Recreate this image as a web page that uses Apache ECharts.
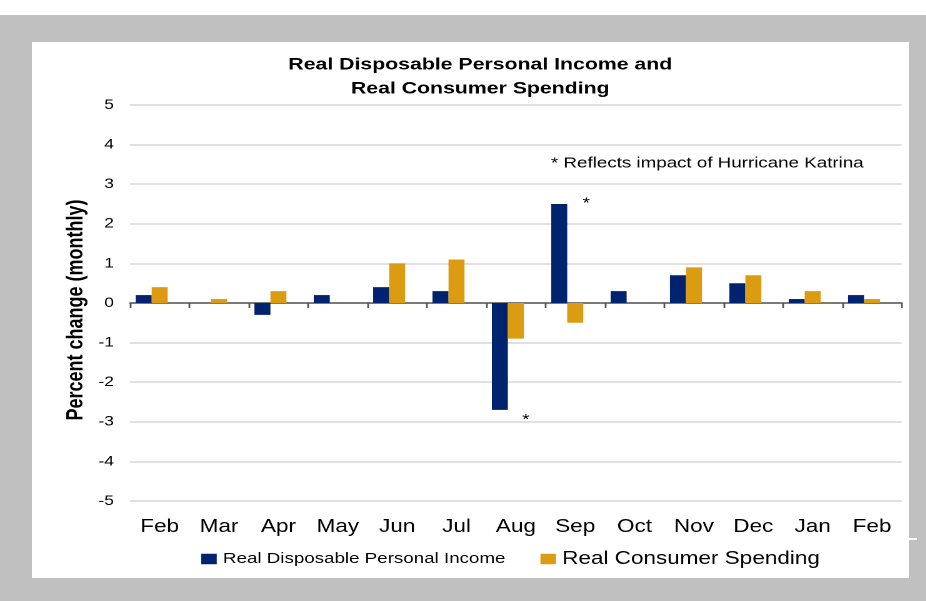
<!DOCTYPE html>
<html>
<head>
<meta charset="utf-8">
<script src="https://cdn.jsdelivr.net/npm/echarts@6/dist/echarts.min.js"></script>
<style>
  html, body { margin: 0; padding: 0; background: #ffffff; overflow: hidden; }
  #bg { position: absolute; left: 0; top: 15px; width: 926px; height: 586px; background: #c0c0c0; }
  #panel { position: absolute; left: 32px; top: 42px; width: 877px; height: 536px; background: #ffffff; }
  #stub { position: absolute; left: 909px; top: 538px; width: 8px; height: 2px; background: #ffffff; }
  #chart { position: absolute; left: 0; top: 0; height: 601px; transform-origin: 0 0; }
</style>
</head>
<body>
<div id="bg"></div>
<div id="panel"></div>
<div id="stub"></div>
<div id="chart"></div>
<script>
const categories = ["Feb", "Mar", "Apr", "May", "Jun", "Jul", "Aug", "Sep", "Oct", "Nov", "Dec", "Jan", "Feb"];
const incomeValues = [0.2, 0, -0.3, 0.2, 0.4, 0.3, -2.7, 2.5, 0.3, 0.7, 0.5, 0.1, 0.2];
const spendingValues = [0.4, 0.1, 0.3, 0, 1.0, 1.1, -0.9, -0.5, 0, 0.9, 0.7, 0.3, 0.1];
const yTicks = [-5, -4, -3, -2, -1, 0, 1, 2, 3, 4, 5];
const seriesNames = ["Real Disposable Personal Income", "Real Consumer Spending"];
const titleText = "Real Disposable Personal Income and\nReal Consumer Spending";
const noteText = "* Reflects impact of Hurricane Katrina";
const yAxisName = "Percent change (monthly)";
const starredIncome = { "6": "bottom", "7": "top" };

// The reference is rendered horizontally stretched; draw narrower and stretch.
const S = 1.25;
const el = document.getElementById("chart");
el.style.width = (926 / S) + "px";
el.style.transform = "scaleX(" + S + ")";

const FONT = "Liberation Sans, Arial, sans-serif";
const X = v => v / S;

const incomeData = incomeValues.map((v, i) => {
  const pos = starredIncome[String(i)];
  if (!pos) return v;
  return {
    value: v,
    label: {
      show: true,
      formatter: "*",
      position: pos,
      offset: pos === "top" ? [X(27), 12] : [X(26), -2.5],
      fontSize: 15,
      color: "#000",
      fontFamily: FONT
    }
  };
});

const chart = echarts.init(el, null, { renderer: "canvas", devicePixelRatio: 2 });
chart.setOption({
  backgroundColor: "transparent",
  animation: false,
  title: {
    text: titleText,
    left: X(474),
    textAlign: "center",
    top: 48,
    textStyle: { fontFamily: FONT, fontSize: 17, fontWeight: "bold", color: "#000", lineHeight: 24 }
  },
  graphic: [
    {
      type: "text",
      left: X(551),
      top: 156,
      style: { text: noteText, font: "15px " + FONT, fill: "#000" }
    },
    {
      type: "text",
      x: X(76.5),
      y: 310,
      rotation: Math.PI / 2,
      style: {
        text: yAxisName,
        font: "bold 18px " + FONT,
        fill: "#000",
        align: "center",
        verticalAlign: "middle"
      }
    }
  ],
  legend: {
    bottom: 28,
    left: X(195),
    itemWidth: X(15.5),
    itemHeight: 10.5,
    itemGap: X(35),
    icon: "rect",
    data: [
      { name: seriesNames[0], textStyle: { fontSize: 15, fontFamily: FONT, color: "#000" } },
      { name: seriesNames[1], textStyle: { fontSize: 18, fontFamily: FONT, color: "#000" } }
    ]
  },
  grid: { left: X(130), right: X(926 - 901.5), top: 105, bottom: 100, containLabel: false },
  xAxis: [
    {
      type: "category",
      data: categories,
      axisLine: { onZero: true, lineStyle: { color: "#555", width: 1.6 } },
      axisTick: { show: true, inside: false, length: 5, lineStyle: { color: "#555", width: 1.4 } },
      axisLabel: { show: false }
    },
    {
      type: "category",
      data: categories,
      position: "bottom",
      axisLine: { show: false },
      axisTick: { show: false },
      axisLabel: { show: true, margin: 17, fontSize: 18, fontFamily: FONT, color: "#000" }
    }
  ],
  yAxis: {
    type: "value",
    min: yTicks[0],
    max: yTicks[yTicks.length - 1],
    interval: 1,
    axisLine: { show: false },
    axisTick: { show: false },
    axisLabel: { margin: X(16), fontSize: 14, fontFamily: FONT, color: "#000" },
    splitLine: { lineStyle: { color: "#d6d6d6", width: 1.5 } }
  },
  series: [
    {
      name: seriesNames[0],
      type: "bar",
      xAxisIndex: 0,
      data: incomeData,
      barWidth: X(16),
      barGap: "0%",
      itemStyle: { color: "#00236f" }
    },
    {
      name: seriesNames[1],
      type: "bar",
      xAxisIndex: 0,
      data: spendingValues,
      barWidth: X(16),
      barGap: "0%",
      itemStyle: { color: "#dc9c12" }
    },
    {
      // empty third slot, as in the source spreadsheet chart, which shifts each pair left of centre
      name: "spacer",
      type: "bar",
      xAxisIndex: 0,
      data: [],
      barWidth: X(16),
      barGap: "0%",
      silent: true
    }
  ]
});
</script>
</body>
</html>
